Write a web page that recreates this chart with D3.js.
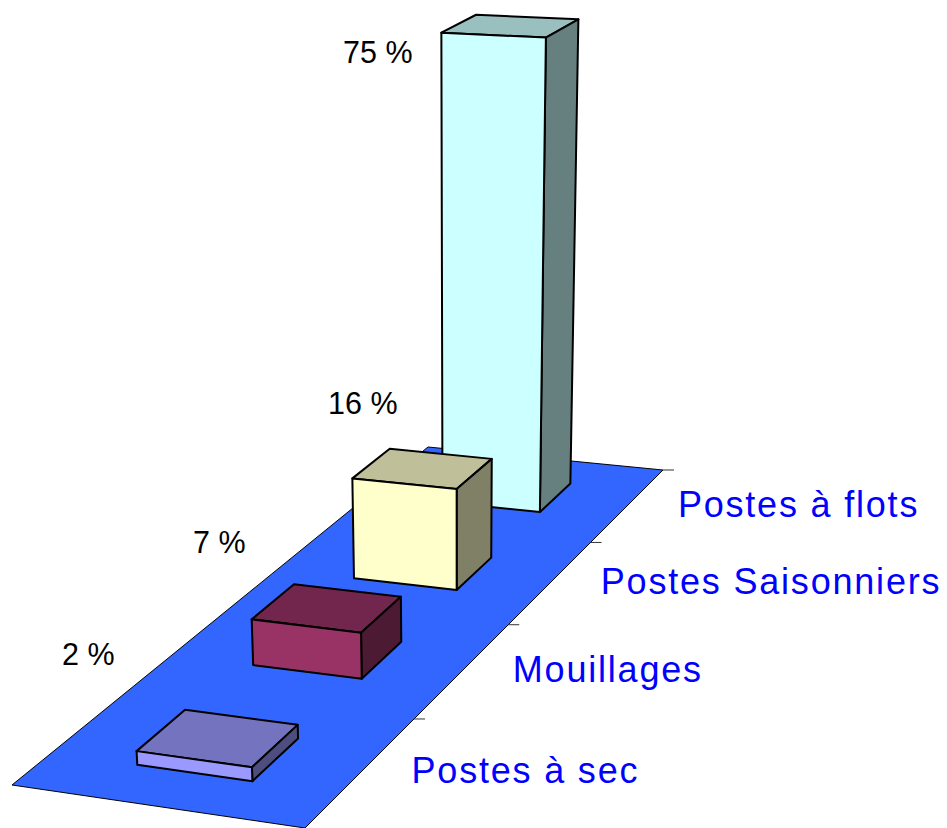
<!DOCTYPE html>
<html>
<head>
<meta charset="utf-8">
<style>
  body { margin: 0; background: #fff; }
  svg { display: block; }
  .valeur { font-family: "Liberation Sans", Arial, sans-serif; font-size: 30.5px; fill: #000; }
  .categorie { font-family: "Liberation Sans", Arial, sans-serif; font-size: 36px; fill: #0000ff; letter-spacing: 1.8px; }
</style>
<script src="https://cdn.jsdelivr.net/npm/d3@7"></script>
</head>
<body>
<div id="chart"></div>
<script>
var categories = ['Postes à sec', 'Mouillages', 'Postes Saisonniers', 'Postes à flots'];
var valeurs = [2, 7, 16, 75];
var couleurs = ['#9999ff', '#993366', '#ffffcc', '#ccffff'];
var etiquettes = ['2 %', '7 %', '16 %', '75 %'];
// position of the percent labels, placed by hand in the original
var etiquettesX = [62, 193, 328, 343];
var etiquettesY = [665, 553, 414, 63];

var width = 947,
    height = 828;

var svg = d3.select('#chart').append('svg')
            .attr('width', width)
            .attr('height', height);

// floor corners on screen: front left, front right, back right, back left
var sol = [[12, 785], [305, 828], [663, 470], [428, 447]];
// vanishing point of the vertical edges
var fuite = [458, 7000];

// homography unit square -> floor quad
var dx1 = sol[1][0] - sol[2][0], dx2 = sol[3][0] - sol[2][0],
    sx = sol[0][0] - sol[1][0] + sol[2][0] - sol[3][0],
    dy1 = sol[1][1] - sol[2][1], dy2 = sol[3][1] - sol[2][1],
    sy = sol[0][1] - sol[1][1] + sol[2][1] - sol[3][1],
    det = dx1 * dy2 - dx2 * dy1,
    g = (sx * dy2 - dx2 * sy) / det,
    h = (dx1 * sy - sx * dy1) / det,
    a = sol[1][0] - sol[0][0] + g * sol[1][0],
    b = sol[3][0] - sol[0][0] + h * sol[3][0],
    d = sol[1][1] - sol[0][1] + g * sol[1][1],
    e = sol[3][1] - sol[0][1] + h * sol[3][1];

// u across the floor, v into the depth, z = homogeneous height
function projeter(u, v, z) {
  var w = g * u + h * v + 1 + z;
  return [(a * u + b * v + sol[0][0] + z * fuite[0]) / w,
          (d * u + e * v + sol[0][1] + z * fuite[1]) / w];
}

var profondeur = d3.scaleBand().domain(categories).range([0, 1]).paddingInner(0.6).paddingOuter(0.3);
var hauteur = d3.scaleLinear().domain([0, 75]).range([0, -0.0834]);
var largeur = d3.scaleLinear().domain([0, 1]).range([0.305, 0.705]);

function chemin(points) {
  return 'M' + points.map(function(p) { return p.join(','); }).join('L') + 'Z';
}

// floor
svg.append('path')
   .attr('d', chemin(sol))
   .attr('fill', '#3366ff')
   .attr('stroke', '#000')
   .attr('stroke-width', 1);

// ticks on the right edge
svg.selectAll('.tick').data([0.25, 0.5, 0.75, 1])
   .enter().append('line')
   .attr('class', 'tick')
   .attr('x1', function(t) { return projeter(1, t, 0)[0]; })
   .attr('y1', function(t) { return projeter(1, t, 0)[1]; })
   .attr('x2', function(t) { return projeter(1, t, 0)[0] + 11; })
   .attr('y2', function(t) { return projeter(1, t, 0)[1]; })
   .attr('stroke', '#333')
   .attr('stroke-width', 1);

// bars, from the back to the front
var indices = d3.range(categories.length).reverse();

var barres = svg.selectAll('.barre').data(indices)
   .enter().append('g')
   .attr('class', 'barre')
   .attr('stroke', '#000')
   .attr('stroke-width', 2)
   .attr('stroke-linejoin', 'round');

function sommets(i) {
  var v0 = profondeur(categories[i]),
      v1 = v0 + profondeur.bandwidth(),
      u0 = largeur(0),
      u1 = largeur(1),
      z = hauteur(valeurs[i]);
  return {
    bas: [projeter(u0, v0, 0), projeter(u1, v0, 0), projeter(u1, v1, 0)],
    haut: [projeter(u0, v0, z), projeter(u1, v0, z), projeter(u1, v1, z), projeter(u0, v1, z)]
  };
}

// top
barres.append('path')
   .attr('d', function(i) { return chemin(sommets(i).haut); })
   .attr('fill', function(i) {
     var c = d3.rgb(couleurs[i]);
     return d3.rgb(c.r * 0.75, c.g * 0.75, c.b * 0.75);
   });

// side
barres.append('path')
   .attr('d', function(i) {
     var s = sommets(i);
     return chemin([s.haut[1], s.haut[2], s.bas[2], s.bas[1]]);
   })
   .attr('fill', function(i) {
     var c = d3.rgb(couleurs[i]);
     return d3.rgb(c.r * 0.5, c.g * 0.5, c.b * 0.5);
   });

// front
barres.append('path')
   .attr('d', function(i) {
     var s = sommets(i);
     return chemin([s.haut[0], s.haut[1], s.bas[1], s.bas[0]]);
   })
   .attr('fill', function(i) { return couleurs[i]; });

// percent labels
svg.selectAll('.valeur').data(etiquettes)
   .enter().append('text')
   .attr('class', 'valeur')
   .attr('x', function(t, i) { return etiquettesX[i]; })
   .attr('y', function(t, i) { return etiquettesY[i]; })
   .text(function(t) { return t; });

// category labels, next to the middle of their band on the right edge
svg.selectAll('.categorie').data(categories)
   .enter().append('text')
   .attr('class', 'categorie')
   .attr('x', function(c) { return projeter(1, profondeur(c) + profondeur.bandwidth() / 2, 0)[0] + 50; })
   .attr('y', function(c) { return projeter(1, profondeur(c) + profondeur.bandwidth() / 2, 0)[1] + 12; })
   .text(function(c) { return c; });
</script>
</body>
</html>
